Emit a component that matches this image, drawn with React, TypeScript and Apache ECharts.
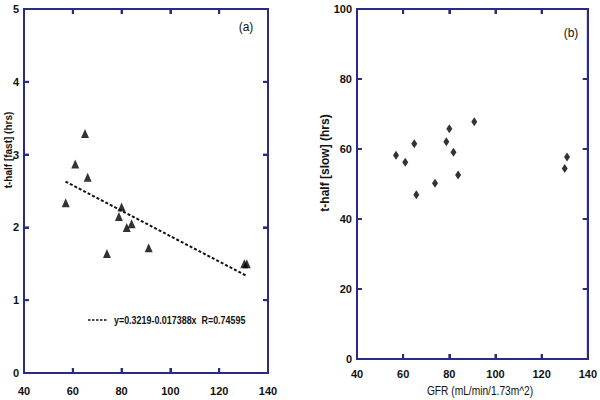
import React, { useEffect, useRef } from "react";
import * as echarts from "echarts";

const fastGFR = [65, 61, 66.1, 57.1, 80, 78.9, 82.1, 84.1, 74, 91.1, 130.3, 131.3];
const fastHalf = [3.29, 2.87, 2.69, 2.34, 2.28, 2.15, 2.0, 2.05, 1.64, 1.72, 1.5, 1.5];
const fitX = [57, 131.5];
const fitY = [2.63, 1.33];
const slowGFR = [56.9, 60.9, 64.8, 65.7, 73.8, 78.7, 80, 81.8, 83.8, 90.8, 130, 131];
const slowHalf = [58.2, 56.2, 61.5, 46.9, 50.2, 62.1, 65.8, 59.1, 52.6, 67.8, 54.4, 57.7];
const xTicks = [40, 60, 80, 100, 120, 140];
const fastTicks = [0, 1, 2, 3, 4, 5];
const slowTicks = [0, 20, 40, 60, 80, 100];
const fitLabel = "y=0.3219-0.017388x  R=0.74595";

const AX = "#2b2b86";
const FONT = "Liberation Sans Narrow, Arial Narrow, Liberation Sans, Arial, sans-serif";

function mkX(gi: number, pos: string, show: boolean, margin: number) {
  return {
    type: "value",
    gridIndex: gi,
    position: pos,
    min: xTicks[0],
    max: xTicks[xTicks.length - 1],
    interval: xTicks[1] - xTicks[0],
    axisLine: { show: true, onZero: false, lineStyle: { color: AX, width: 2 } },
    axisTick: { show: true, inside: true, length: 5, lineStyle: { color: AX, width: 2 } },
    axisLabel: { show, color: "#111", fontWeight: "bold", fontSize: 11, fontFamily: FONT, margin },
    splitLine: { show: false },
  };
}

function mkY(gi: number, pos: string, show: boolean, ticks: number[]) {
  return {
    type: "value",
    gridIndex: gi,
    position: pos,
    min: ticks[0],
    max: ticks[ticks.length - 1],
    interval: ticks[1] - ticks[0],
    axisLine: { show: true, onZero: false, lineStyle: { color: AX, width: 2 } },
    axisTick: { show: true, inside: true, length: 5, lineStyle: { color: AX, width: 2 } },
    axisLabel: { show, color: "#111", fontWeight: "bold", fontSize: 11, fontFamily: FONT, margin: 5 },
    splitLine: { show: false },
  };
}

function txt(text: string, x: number, y: number, size: number, bold: boolean, extra: any = {}) {
  return {
    type: "text",
    x,
    y,
    ...extra,
    style: {
      text,
      fontSize: size,
      fontWeight: bold ? "bold" : "normal",
      fontFamily: FONT,
      fill: "#111",
      align: extra.align || "center",
      verticalAlign: "middle",
    },
  };
}

export default function App() {
  const ref = useRef<HTMLDivElement>(null);
  useEffect(() => {
    const chart = echarts.init(ref.current!, null, { renderer: "svg" });
    chart.setOption({
      animation: false,
      grid: [
        { left: 24, right: 332, top: 9, bottom: 27 },
        { left: 357, right: 8, top: 9, bottom: 41 },
      ],
      xAxis: [mkX(0, "bottom", true, 12), mkX(0, "top", false, 8), mkX(1, "bottom", true, 9), mkX(1, "top", false, 8)],
      yAxis: [
        mkY(0, "left", true, fastTicks),
        mkY(0, "right", false, fastTicks),
        mkY(1, "left", true, slowTicks),
        mkY(1, "right", false, slowTicks),
      ],
      series: [
        {
          type: "line",
          xAxisIndex: 0,
          yAxisIndex: 0,
          data: fitX.map((x, i) => [x, fitY[i]]),
          symbol: "none",
          lineStyle: { color: "#111", width: 2, type: [3, 2] },
        },
        {
          type: "scatter",
          xAxisIndex: 0,
          yAxisIndex: 0,
          data: fastGFR.map((x, i) => [x, fastHalf[i]]),
          symbol: "triangle",
          symbolSize: [8, 9],
          itemStyle: { color: "#000" },
        },
        {
          type: "scatter",
          xAxisIndex: 2,
          yAxisIndex: 2,
          data: slowGFR.map((x, i) => [x, slowHalf[i]]),
          symbol: "diamond",
          symbolSize: [6, 9],
          itemStyle: { color: "#000" },
        },
      ],
    });

    // Frames and inward ticks on all four sides, placed through the chart's own scales.
    const frame: any[] = [];
    const panels = [
      { xi: 0, yi: 0, yt: fastTicks },
      { xi: 2, yi: 2, yt: slowTicks },
    ];
    panels.forEach((p) => {
      const px = (x: number, y: number) =>
        chart.convertToPixel({ xAxisIndex: p.xi, yAxisIndex: p.yi }, [x, y]) as number[];
      const [x0, y0] = px(xTicks[0], p.yt[0]);
      const [x1, y1] = px(xTicks[xTicks.length - 1], p.yt[p.yt.length - 1]);
      frame.push({
        type: "rect",
        shape: { x: x0, y: y1, width: x1 - x0, height: y0 - y1 },
        style: { fill: "none", stroke: AX, lineWidth: 2 },
        z: 10,
      });
      xTicks.slice(1, -1).forEach((t) => {
        const [tx] = px(t, p.yt[0]);
        frame.push({ type: "line", shape: { x1: tx, y1: y0, x2: tx, y2: y0 - 5 }, style: { stroke: AX, lineWidth: 2 }, z: 10 });
        frame.push({ type: "line", shape: { x1: tx, y1: y1, x2: tx, y2: y1 + 5 }, style: { stroke: AX, lineWidth: 2 }, z: 10 });
      });
      p.yt.slice(1, -1).forEach((t) => {
        const [, ty] = px(xTicks[0], t);
        frame.push({ type: "line", shape: { x1: x0, y1: ty, x2: x0 + 5, y2: ty }, style: { stroke: AX, lineWidth: 2 }, z: 10 });
        frame.push({ type: "line", shape: { x1: x1, y1: ty, x2: x1 - 5, y2: ty }, style: { stroke: AX, lineWidth: 2 }, z: 10 });
      });
    });

    chart.setOption({
      graphic: [
        ...frame,
        txt("t-half [fast] (hrs)", 8, 150, 10, true, { rotation: Math.PI / 2 }),
        txt("t-half [slow] (hrs)", 325, 163, 12, true, { rotation: Math.PI / 2 }),
        txt("GFR (mL/min/1.73m^2)", 480, 391, 12, false, { scaleX: 0.85 }),
        txt("(a)", 246, 27, 12, false),
        txt("(b)", 571, 33, 12, false),
        {
          type: "line",
          shape: { x1: 88, y1: 320, x2: 108, y2: 320 },
          style: { stroke: "#111", lineWidth: 1.5, lineDash: [2.5, 1.5] },
        },
        txt(fitLabel, 114, 320, 10.5, true, { scaleX: 0.85, align: "left" }),
      ],
    });
    return () => chart.dispose();
  }, []);
  return <div ref={ref} style={{ position: "absolute", left: 0, top: 0, width: 600, height: 400, background: "#fff" }} />;
}
